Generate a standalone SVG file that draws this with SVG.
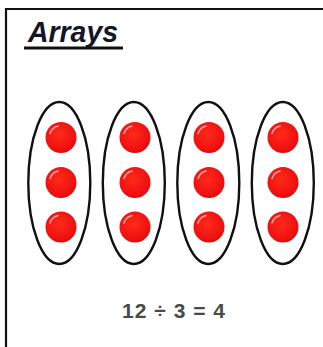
<svg xmlns="http://www.w3.org/2000/svg" width="323" height="347" viewBox="0 0 323 347">
  <style>
    .oval { fill: none; stroke: #111; stroke-width: 2.4; }
    .dot { fill: url(#redGrad); }
    .shine { fill: none; stroke: #ffb0b0; stroke-width: 1.6; stroke-linecap: round; opacity: 0.9; }
    .title { font-family: "Liberation Sans", Arial, sans-serif; font-size: 30px; font-style: italic; font-weight: bold; fill: #151528; }
    .eq { font-family: "Liberation Sans", Arial, sans-serif; font-size: 21px; font-weight: bold; fill: #4a4a4a; letter-spacing: 1px; }
  </style>
  <defs>
    <radialGradient id="redGrad" cx="0.45" cy="0.4" r="0.6">
      <stop offset="0" stop-color="#ff2a1a"/>
      <stop offset="0.85" stop-color="#ee1010"/>
      <stop offset="1" stop-color="#e00a0a"/>
    </radialGradient>
    <g id="ball">
      <circle class="dot" r="15.5"/>
      <path class="shine" d="M -11 -4 A 11 11 0 0 1 -3 -11.5"/>
    </g>
  </defs>
  <rect width="323" height="347" fill="#ffffff"/>
  <g id="frame">
    <line x1="6" y1="9" x2="323" y2="9" stroke="#111" stroke-width="2.2"/>
    <line x1="6" y1="8" x2="6" y2="347" stroke="#111" stroke-width="2.2"/>
  </g>
  <g id="title">
    <text class="title" x="28" y="42" textLength="90" lengthAdjust="spacingAndGlyphs">Arrays</text>
    <line x1="24" y1="48" x2="123" y2="48" stroke="#111" stroke-width="3"/>
  </g>
  <g id="connectors"></g>
  <g id="group1">
    <ellipse class="oval" cx="59.3" cy="183" rx="31" ry="81"/>
    <use href="#ball" x="61" y="137.5"/>
    <use href="#ball" x="61" y="182.5"/>
    <use href="#ball" x="61" y="227"/>
  </g>
  <g id="group2">
    <ellipse class="oval" cx="133.8" cy="183" rx="31" ry="81"/>
    <use href="#ball" x="135" y="137.5"/>
    <use href="#ball" x="135" y="182.5"/>
    <use href="#ball" x="135" y="227"/>
  </g>
  <g id="group3">
    <ellipse class="oval" cx="208.3" cy="183" rx="31" ry="81"/>
    <use href="#ball" x="209" y="137.5"/>
    <use href="#ball" x="209" y="182.5"/>
    <use href="#ball" x="209" y="227"/>
  </g>
  <g id="group4">
    <ellipse class="oval" cx="282.8" cy="183" rx="31" ry="81"/>
    <use href="#ball" x="283" y="137.5"/>
    <use href="#ball" x="283" y="182.5"/>
    <use href="#ball" x="283" y="227"/>
  </g>
  <g id="equation">
    <text class="eq" x="174" y="318" text-anchor="middle">12 ÷ 3 = 4</text>
  </g>
</svg>
